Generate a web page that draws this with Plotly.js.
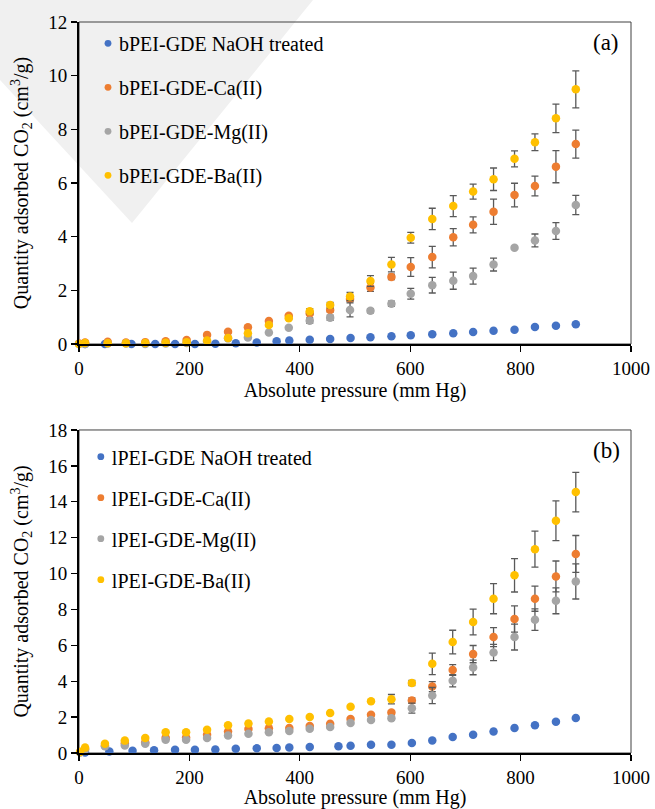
<!DOCTYPE html>
<html>
<head>
<meta charset="utf-8">
<script src="https://cdn.plot.ly/plotly-3.0.1.min.js"></script>
<style>html,body{margin:0;padding:0;background:#fff;}#chart{width:655px;height:809px;}</style>
</head>
<body>
<div id="chart"></div>
<script>
// ---------- Data: panel (a) bPEI ----------
const aNaOH_x = [11, 47, 95, 138, 174, 210, 247, 284, 322, 358, 381, 418, 455, 492, 528, 566, 601, 640, 678, 714, 751, 789, 826, 864, 900];
const aNaOH_y = [0, 0, 0, 0, 0, 0, 0.01, 0.03, 0.06, 0.10, 0.13, 0.16, 0.19, 0.22, 0.25, 0.29, 0.33, 0.36, 0.40, 0.45, 0.49, 0.53, 0.63, 0.68, 0.74];

const aMetal_x = [0, 11, 52, 85, 120, 157, 195, 232, 270, 306, 344, 380, 418, 455, 491, 528, 566, 601, 640, 678, 714, 751, 789, 826, 864, 900];
const aCa_y   = [0.02, 0.06, 0.08, 0.06, 0.07, 0.10, 0.15, 0.34, 0.46, 0.62, 0.86, 1.05, 1.14, 1.27, 1.68, 2.11, 2.50, 2.87, 3.24, 3.98, 4.44, 4.93, 5.55, 5.89, 6.61, 7.45];
const aCa_err = [0, 0, 0, 0, 0, 0, 0, 0, 0, 0, 0, 0, 0.05, 0.08, 0.10, 0.15, 0.10, 0.35, 0.40, 0.32, 0.30, 0.47, 0.44, 0.37, 0.60, 0.52];
const aMg_y   = [0, 0, 0.02, 0.02, 0, 0.02, 0.04, 0.09, 0.21, 0.24, 0.43, 0.61, 0.87, 0.98, 1.27, 1.24, 1.50, 1.87, 2.19, 2.36, 2.53, 2.96, 3.59, 3.86, 4.21, 5.18];
const aMg_err = [0, 0, 0, 0, 0, 0, 0, 0, 0, 0, 0, 0, 0.10, 0.10, 0.26, 0.08, 0.10, 0.20, 0.29, 0.32, 0.30, 0.24, 0.05, 0.24, 0.31, 0.36];
const aBa_y   = [0, 0.04, 0.03, 0.03, 0.04, 0.05, 0.07, 0.13, 0.22, 0.40, 0.71, 0.96, 1.22, 1.45, 1.77, 2.35, 2.96, 3.96, 4.66, 5.14, 5.68, 6.14, 6.90, 7.52, 8.41, 9.49];
const aBa_err = [0, 0, 0, 0, 0, 0, 0, 0, 0, 0, 0.05, 0.05, 0.10, 0.10, 0.15, 0.20, 0.27, 0.20, 0.40, 0.39, 0.28, 0.42, 0.30, 0.31, 0.53, 0.69];

// ---------- Data: panel (b) lPEI ----------
const bNaOH_x = [11, 55, 97, 136, 174, 210, 247, 284, 322, 358, 381, 418, 470, 492, 529, 566, 603, 640, 677, 714, 751, 789, 826, 864, 900];
const bNaOH_y = [0.03, 0.09, 0.13, 0.15, 0.18, 0.18, 0.20, 0.24, 0.26, 0.28, 0.31, 0.33, 0.37, 0.41, 0.46, 0.46, 0.56, 0.70, 0.89, 1.02, 1.20, 1.39, 1.54, 1.74, 1.95];

const bMetal_x = [2, 11, 47, 83, 120, 157, 194, 232, 270, 307, 344, 381, 418, 455, 492, 529, 566, 603, 640, 677, 714, 751, 789, 826, 864, 900];
const bCa_y   = [0.05, 0.22, 0.40, 0.55, 0.60, 0.85, 0.87, 1.02, 1.20, 1.34, 1.38, 1.39, 1.50, 1.63, 1.89, 2.13, 2.26, 2.92, 3.70, 4.62, 5.51, 6.46, 7.47, 8.60, 9.84, 11.09];
const bCa_err = [0, 0, 0, 0, 0, 0, 0, 0, 0, 0, 0, 0, 0, 0, 0, 0, 0.10, 0.15, 0.28, 0.30, 0.48, 0.53, 0.73, 0.70, 0.86, 1.03];
const bMg_y   = [0.03, 0.20, 0.37, 0.42, 0.52, 0.74, 0.74, 0.84, 0.98, 1.07, 1.15, 1.22, 1.35, 1.45, 1.67, 1.84, 1.94, 2.50, 3.20, 4.03, 4.77, 5.60, 6.46, 7.43, 8.48, 9.56];
const bMg_err = [0, 0, 0, 0, 0, 0, 0, 0, 0, 0, 0, 0, 0, 0, 0, 0.05, 0.10, 0.28, 0.45, 0.34, 0.41, 0.45, 0.72, 0.60, 0.72, 0.98];
const bBa_y   = [0.05, 0.30, 0.52, 0.69, 0.83, 1.16, 1.16, 1.30, 1.54, 1.65, 1.76, 1.90, 2.00, 2.23, 2.58, 2.88, 3.00, 3.90, 4.97, 6.18, 7.30, 8.60, 9.90, 11.36, 12.94, 14.54];
const bBa_err = [0, 0, 0, 0, 0, 0, 0, 0, 0, 0, 0, 0, 0, 0, 0, 0.05, 0.26, 0.15, 0.60, 0.66, 0.72, 0.84, 0.93, 1.00, 1.11, 1.10];

const aNames = ['bPEI-GDE NaOH treated', 'bPEI-GDE-Ca(II)', 'bPEI-GDE-Mg(II)', 'bPEI-GDE-Ba(II)'];
const bNames = ['lPEI-GDE NaOH treated', 'lPEI-GDE-Ca(II)', 'lPEI-GDE-Mg(II)', 'lPEI-GDE-Ba(II)'];
const colors = ['#4472C4', '#ED7D31', '#A5A5A5', '#FFC000'];

const FONT = 'Liberation Serif, Times New Roman, serif';

function tr(x, y, err, name, color, xa, ya, leg, grp) {
  const t = {
    type: 'scatter', mode: 'markers', x: x, y: y, name: name,
    xaxis: xa, yaxis: ya, legend: leg, legendgroup: grp,
    cliponaxis: false,
    marker: {color: color, size: 8.5, line: {width: 0}}
  };
  if (err) {
    t.error_y = {type: 'data', array: err, visible: true, color: '#595959', thickness: 1.3, width: 3.5};
  }
  return t;
}

const data = [
  tr(aNaOH_x, aNaOH_y, null, aNames[0], colors[0], 'x', 'y', 'legend', 'a0'),
  tr(aMetal_x, aCa_y, aCa_err, aNames[1], colors[1], 'x', 'y', 'legend', 'a1'),
  tr(aMetal_x, aMg_y, aMg_err, aNames[2], colors[2], 'x', 'y', 'legend', 'a2'),
  tr(aMetal_x, aBa_y, aBa_err, aNames[3], colors[3], 'x', 'y', 'legend', 'a3'),
  tr(bNaOH_x, bNaOH_y, null, bNames[0], colors[0], 'x2', 'y2', 'legend2', 'b0'),
  tr(bMetal_x, bCa_y, bCa_err, bNames[1], colors[1], 'x2', 'y2', 'legend2', 'b1'),
  tr(bMetal_x, bMg_y, bMg_err, bNames[2], colors[2], 'x2', 'y2', 'legend2', 'b2'),
  tr(bMetal_x, bBa_y, bBa_err, bNames[3], colors[3], 'x2', 'y2', 'legend2', 'b3')
];

function xax(anchor) {
  return {
    anchor: anchor, domain: [0, 1], range: [0, 1000], dtick: 200, tick0: 0,
    ticks: 'outside', ticklen: 6, tickwidth: 1.3, tickcolor: '#000',
    showline: true, linecolor: '#000', linewidth: 2, showgrid: false, zeroline: false,
    tickfont: {family: FONT, size: 19, color: '#000'},
    title: {text: 'Absolute pressure (mm Hg)', font: {family: FONT, size: 20, color: '#000'}, standoff: 4}
  };
}
function yax(anchor, domain, max) {
  return {
    anchor: anchor, domain: domain, range: [0, max], dtick: 2, tick0: 0,
    ticks: 'outside', ticklen: 6, tickwidth: 1.3, tickcolor: '#000',
    showline: true, linecolor: '#000', linewidth: 2, showgrid: false, zeroline: false,
    tickfont: {family: FONT, size: 19, color: '#000'},
    title: {text: 'Quantity adsorbed CO<sub>2</sub> (cm<sup>3</sup>/g)', font: {family: FONT, size: 20, color: '#000'}, standoff: 14}
  };
}

const legFont = {family: FONT, size: 20, color: '#000'};

const layout = {
  width: 655, height: 809,
  margin: {l: 79, r: 24, t: 22, b: 56},
  paper_bgcolor: '#fff', plot_bgcolor: 'rgba(0,0,0,0)',
  showlegend: true,
  xaxis: xax('y'),
  yaxis: yax('x', [0.5595, 1], 12),
  xaxis2: xax('y2'),
  yaxis2: yax('x2', [0, 0.4419], 18),
  legend: {x: 0, y: 0.9975, xanchor: 'left', yanchor: 'top', bgcolor: 'rgba(0,0,0,0)', font: legFont, tracegroupgap: 15, itemclick: false},
  legend2: {x: -0.013, y: 0.432, xanchor: 'left', yanchor: 'top', bgcolor: 'rgba(0,0,0,0)', font: legFont, tracegroupgap: 12, itemclick: false},
  shapes: [
    // faint background watermark band seen in the reference
    {type: 'path', xref: 'paper', yref: 'paper', layer: 'below', line: {width: 0}, fillcolor: '#f0f0f0',
     path: 'M -0.1431,1.0301 L 0.4239,1.0301 L 0.0960,0.7250 L -0.1431,0.9207 Z'},
    {type: 'rect', xref: 'x domain', yref: 'y domain', x0: 0, x1: 1, y0: 0, y1: 1, line: {color: '#404040', width: 1}, layer: 'below'},
    {type: 'rect', xref: 'x2 domain', yref: 'y2 domain', x0: 0, x1: 1, y0: 0, y1: 1, line: {color: '#404040', width: 1}, layer: 'below'}
  ],
  annotations: [
    {text: '(a)', xref: 'x domain', yref: 'y domain', x: 0.955, y: 0.937, xanchor: 'center', yanchor: 'middle', showarrow: false, font: {family: FONT, size: 23, color: '#000'}},
    {text: '(b)', xref: 'x2 domain', yref: 'y2 domain', x: 0.955, y: 0.937, xanchor: 'center', yanchor: 'middle', showarrow: false, font: {family: FONT, size: 23, color: '#000'}}
  ]
};

Plotly.newPlot('chart', data, layout, {displayModeBar: false, staticPlot: true}).then(function () {
  // bring legend symbols closer to their labels and make them a bit smaller, as in the reference
  document.querySelectorAll('.legendpoints').forEach(function (g) {
    g.setAttribute('transform', 'translate(29,0) scale(0.8) translate(-20,0)');
  });
});
</script>
</body>
</html>
